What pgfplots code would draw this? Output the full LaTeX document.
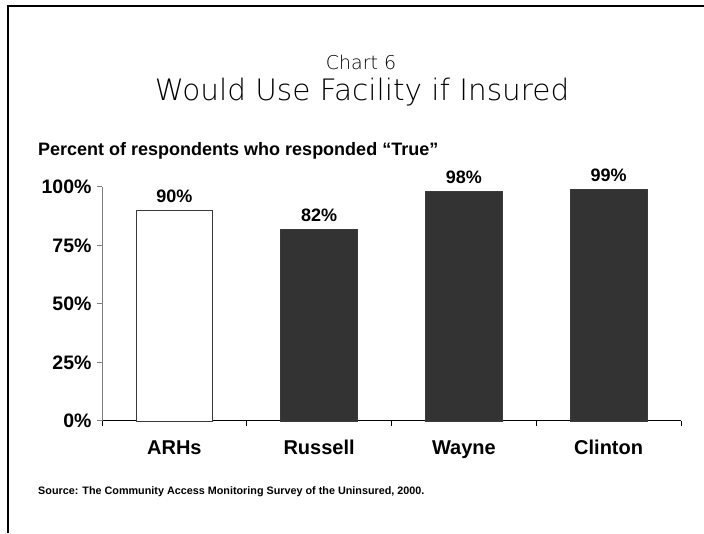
\documentclass[border=0pt]{standalone}
\usepackage{pgfplots}
\pgfplotsset{compat=1.18}
\usepackage{fontspec}
\setmainfont{Liberation Sans}
\IfFontExistsTF{DejaVu Sans ExtraLight}
  {\newfontfamily\titlefont{DejaVu Sans ExtraLight}}
  {\newfontfamily\titlefont{DejaVu Sans}}

\definecolor{barfill}{HTML}{333333}
\definecolor{baredge}{HTML}{3A3A3A}
\definecolor{axisgray}{HTML}{7F7F7F}

\begin{document}
\begin{tikzpicture}
\path[use as bounding box] (0pt,0pt) rectangle (704pt,533pt);
% outer frame (left and top edges)
\draw[line width=2pt] (8pt,0pt) -- (8pt,527pt) -- (704pt,527pt);

% titles
\node[font=\titlefont\fontsize{19}{22}\selectfont, anchor=base] at (361pt,463pt) {Chart 6};
\node[font=\titlefont\fontsize{29.5}{34}\selectfont, anchor=base] at (362pt,432pt) {Would Use Facility if Insured};
\node[font=\bfseries\fontsize{18}{21}\selectfont, anchor=base west, inner sep=0pt] at (38pt,377pt) {Percent of respondents who responded “True”};
\node[font=\bfseries\fontsize{10.8}{13}\selectfont, anchor=base west, inner sep=0pt] at (38pt,39pt) {Source: The Community Access Monitoring Survey of the Uninsured, 2000.};

\begin{axis}[
  at={(102pt,112pt)}, anchor=south west,
  scale only axis, width=579pt, height=234pt,
  xmin=-0.5, xmax=3.5, ymin=0, ymax=100,
  clip=false,
  axis x line*=bottom, axis y line*=left,
  x axis line style={black, line width=1pt},
  y axis line style={axisgray, line width=1pt},
  tick align=outside,
  major tick length=5pt,
  /pgf/number format/assume math mode=true,
  ytick={0,25,50,75,100},
  yticklabel={\pgfmathprintnumber{\tick}\%},
  ytick style={axisgray, line width=1pt},
  yticklabel style={font=\bfseries\fontsize{19.5}{22}\selectfont, xshift=-2pt},
  xtick={-0.5,0.5,1.5,2.5,3.5},
  xticklabels={},
  xtick style={black, line width=1pt},
  extra x ticks={0,1,2,3},
  extra x tick labels={ARHs,Russell,Wayne,Clinton},
  extra x tick style={major tick length=0pt,
    tick label style={font=\bfseries\fontsize{20}{24}\selectfont, anchor=base, yshift=-34pt}},
  nodes near coords={\pgfmathprintnumber{\pgfplotspointmeta}\%},
  every node near coord/.append style={font=\bfseries\fontsize{18}{21}\selectfont, black, yshift=4pt},
]
\addplot[ybar, bar shift=0pt, bar width=0.53, fill=white, draw=baredge, line width=0.8pt]
  coordinates {(0,90)};
\addplot[ybar, bar shift=0pt, bar width=0.53, fill=barfill, draw=baredge, line width=0.8pt]
  coordinates {(1,82) (2,98) (3,99)};
\end{axis}
\end{tikzpicture}
\end{document}
